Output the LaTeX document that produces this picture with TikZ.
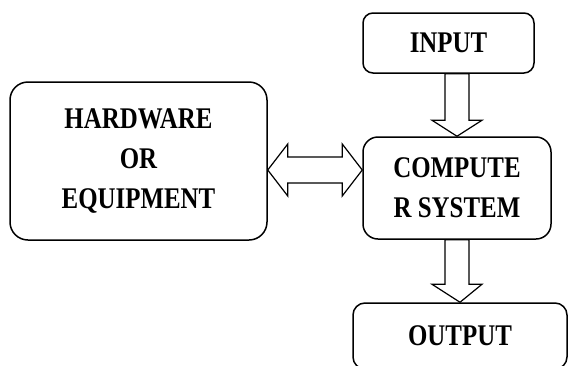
\documentclass[tikz,border=0pt]{standalone}
\usepackage{fontspec}
\setmainfont[FakeStretch=0.83]{Liberation Serif}
\usetikzlibrary{calc}

\begin{document}
\begin{tikzpicture}[x=1pt,y=-1pt,
    box/.style={draw, line width=1.5pt, align=center, inner sep=0pt,
        font=\bfseries\fontsize{30}{40}\selectfont},
    blockarrow/.style={draw, line width=1.2pt, fill=white, line join=miter}]
        \useasboundingbox (0,0) rectangle (568,365);
        % boxes
        \node [box, rounded corners=18pt, minimum width=257pt, minimum height=158pt] (hw) at (138.5,161) {HARDWARE\\OR\\EQUIPMENT};
        \node [box, rounded corners=10pt, minimum width=171pt, minimum height=60pt] (input) at (448.5,43) {INPUT};
        \node [box, rounded corners=15pt, minimum width=188pt, minimum height=102pt] (comp) at (457,188) {COMPUTE\\R SYSTEM};
        \node [box, rounded corners=12pt, minimum width=214pt, minimum height=66pt] (output) at (460,336) {OUTPUT};
        \coordinate (hwport) at (hw.east |- 0,170);
        \coordinate (compport) at (comp.west |- 0,170);
        \coordinate (inport) at (comp.north |- input.south);
        % block arrows
        \draw [blockarrow] let \p1=(inport), \p2=(comp.north) in
            (\x1-12pt,\y1) -- (\x1-12pt,\y2+16pt) -- (\x1-25pt,\y2+16pt) -- (\x2,\y2)
            -- (\x1+25pt,\y2+16pt) -- (\x1+12pt,\y2+16pt) -- (\x1+12pt,\y1) -- cycle;
        \draw [blockarrow] let \p1=(comp.south), \p2=(output.north) in
            (\x1-12pt,\y1) -- (\x1-12pt,\y2+18pt) -- (\x1-25pt,\y2+18pt) -- (\x2,\y2)
            -- (\x1+25pt,\y2+18pt) -- (\x1+12pt,\y2+18pt) -- (\x1+12pt,\y1) -- cycle;
        \draw [blockarrow] let \p1=(hwport), \p2=(compport) in
            (\x1,\y1) -- (\x1+20pt,\y1+26pt) -- (\x1+20pt,\y1+13pt) -- (\x2-20pt,\y1+13pt)
            -- (\x2-20pt,\y1+26pt) -- (\x2,\y1) -- (\x2-20pt,\y1-26pt) -- (\x2-20pt,\y1-13pt)
            -- (\x1+20pt,\y1-13pt) -- (\x1+20pt,\y1-26pt) -- cycle;
    \end{tikzpicture}
\end{document}
